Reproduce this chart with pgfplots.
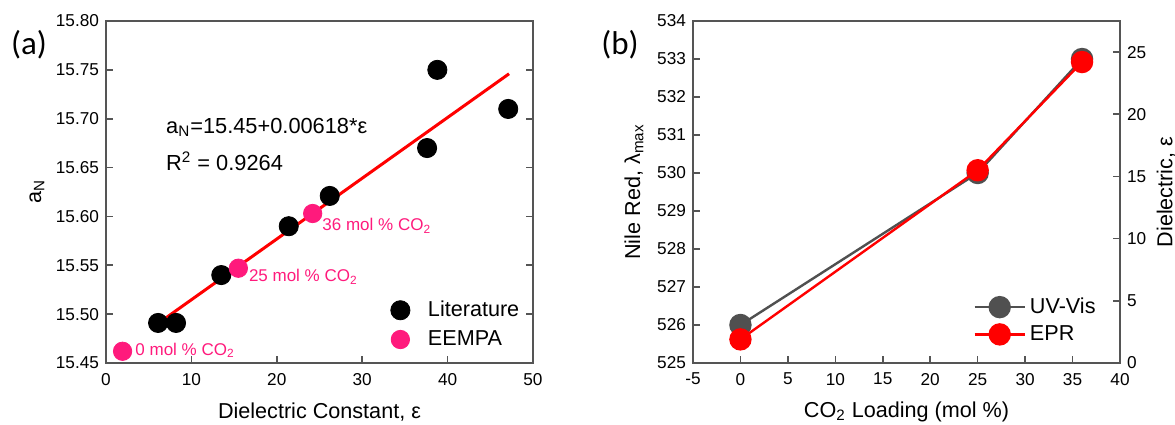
\documentclass[border=0pt]{standalone}
\usepackage{pgfplots}
\pgfplotsset{compat=1.18}
\usepackage{fontspec}
\setmainfont{Liberation Sans}
\newfontfamily\calfont{Carlito}
\definecolor{epink}{RGB}{255,26,124}
\definecolor{dgray}{RGB}{80,80,80}
\definecolor{axgray}{RGB}{85,85,85}
\newcommand{\tickfont}{\fontsize{8.6}{10}\selectfont}
\newcommand{\labfont}{\fontsize{10.8}{12}\selectfont}
\pgfplotsset{
  myaxis/.style={
    scale only axis,
    width=213.5pt, height=171pt,
    axis line style={axgray, line width=0.8pt},
    tick style={axgray, line width=0.8pt},
    tick align=inside,
    major tick length=3.5pt,
    ticklabel style={font=\tickfont},
    xticklabel style={yshift=-1.5pt},
    label style={font=\labfont},
    /pgf/number format/assume math mode=true,
  }
}
\begin{document}
\begin{tikzpicture}
\useasboundingbox (0,0) rectangle (587.5pt,-212pt);
% ---------------- panel (a)
\begin{axis}[myaxis,
  at={(53pt,-181.5pt)}, anchor=south west,
  xmin=0, xmax=50, ymin=15.45, ymax=15.80,
  xtick={0,10,20,30,40,50},
  xticklabels={0,10,20,30,40,50},
  ytick={15.45,15.50,15.55,15.60,15.65,15.70,15.75,15.80},
  yticklabels={15.45,15.50,15.55,15.60,15.65,15.70,15.75,15.80},
  xtick pos=left, ytick pos=both,
  xlabel={Dielectric Constant, ε},
  ylabel={a\textsubscript{N}},
  xlabel style={at={(axis description cs:0.5,0)}, anchor=center, yshift=-24.5pt},
  ylabel style={at={(axis description cs:-0.1616,0.5)}, anchor=center},
  legend style={draw=none, fill=none, font=\labfont, at={(axis description cs:0.652,0.018)}, anchor=south west,
    row sep=1.5pt, column sep=7pt, nodes={inner sep=2pt}},
  legend cell align=left,
  clip=false,
]
\addplot[red, line width=1.5pt, forget plot] coordinates {(6.1,15.4905) (47.2,15.746)};
\addplot[only marks, mark=*, mark size=4.8pt, mark options={draw=black, fill=black}] coordinates {
 (6.1,15.491) (8.2,15.491) (13.5,15.540) (21.4,15.590) (26.2,15.621)
 (37.6,15.670) (38.8,15.750) (47.1,15.710)};
\addlegendentry{Literature}
\addplot[only marks, mark=*, mark size=4.6pt, mark options={draw=epink, fill=epink}] coordinates {
 (1.94,15.462) (15.5,15.547) (24.2,15.603)};
\addlegendentry{EEMPA}
\node[anchor=west, font=\fontsize{10.9}{12}\selectfont, inner sep=0pt] at (axis cs:7.0,15.691) {a\textsubscript{N}=15.45+0.00618*ε};
\node[anchor=west, font=\fontsize{10.9}{12}\selectfont, inner sep=0pt] at (axis cs:7.0,15.656) {R\textsuperscript{2} = 0.9264};
\node[anchor=west, text=epink, font=\fontsize{8.5}{10}\selectfont, inner sep=0pt] at (axis cs:25.3,15.590) {36 mol \% CO\textsubscript{2}};
\node[anchor=west, text=epink, font=\fontsize{8.5}{10}\selectfont, inner sep=0pt] at (axis cs:16.7,15.538) {25 mol \% CO\textsubscript{2}};
\node[anchor=west, text=epink, font=\fontsize{8.5}{10}\selectfont, inner sep=0pt] at (axis cs:3.4,15.463) {0 mol \% CO\textsubscript{2}};
\end{axis}
\node[font=\calfont\fontsize{16.5}{18}\selectfont] at (14.5pt,-22.5pt) {(a)};
% ---------------- panel (b) left axis
\begin{axis}[myaxis,
  at={(346.5pt,-181.5pt)}, anchor=south west,
  xmin=-5, xmax=40, ymin=525, ymax=534,
  xtick={-5,0,5,10,15,20,25,30,35,40},
  xticklabels={-5,0,5,10,15,20,25,30,35,40},
  ytick={525,526,527,528,529,530,531,532,533,534},
  yticklabels={525,526,527,528,529,530,531,532,533,534},
  xtick pos=left, ytick pos=left,
  xlabel={CO\textsubscript{2} Loading (mol \%)},
  ylabel={Nile Red, λ\textsubscript{max}},
  xlabel style={at={(axis description cs:0.5,0)}, anchor=center, yshift=-24.5pt},
  ylabel style={at={(axis description cs:-0.1382,0.5)}, anchor=center},
  clip=false,
]
\addplot[dgray, line width=1.2pt, mark=*, mark size=5pt, mark options={draw=dgray, fill=dgray}] coordinates {
 (0,526.0) (25,530.0) (36,533.0)};
\end{axis}
% ---------------- panel (b) right axis
\begin{axis}[myaxis,
  at={(346.5pt,-181.5pt)}, anchor=south west,
  xmin=-5, xmax=40, ymin=0, ymax=27.5,
  axis x line=none, axis y line*=right,
  ytick={0,5,10,15,20,25},
  yticklabels={0,5,10,15,20,25},
  ylabel={Dielectric, ε},
  ylabel style={at={(axis description cs:1.1077,0.5)}, anchor=center},
  legend style={draw=none, fill=none, font=\labfont, at={(axis description cs:0.642,0.033)}, anchor=south west,
    row sep=0.5pt, nodes={inner sep=2pt}},
  legend cell align=left,
  legend image code/.code={\draw[mark repeat=2, mark phase=2, #1] plot coordinates {(0pt,0pt) (12.5pt,0pt) (25pt,0pt)};},
  clip=false,
]
\addlegendimage{dgray, line width=1.2pt, mark=*, mark size=5pt, mark options={draw=dgray, fill=dgray}}
\addlegendentry{UV-Vis}
\addplot[red, line width=1.2pt, mark=*, mark size=5pt, mark options={draw=red, fill=red}] coordinates {
 (0,1.9) (25,15.5) (36,24.2)};
\addlegendentry{EPR}
\end{axis}
\node[font=\calfont\fontsize{16.5}{18}\selectfont] at (310pt,-22.5pt) {(b)};
\end{tikzpicture}
\end{document}
